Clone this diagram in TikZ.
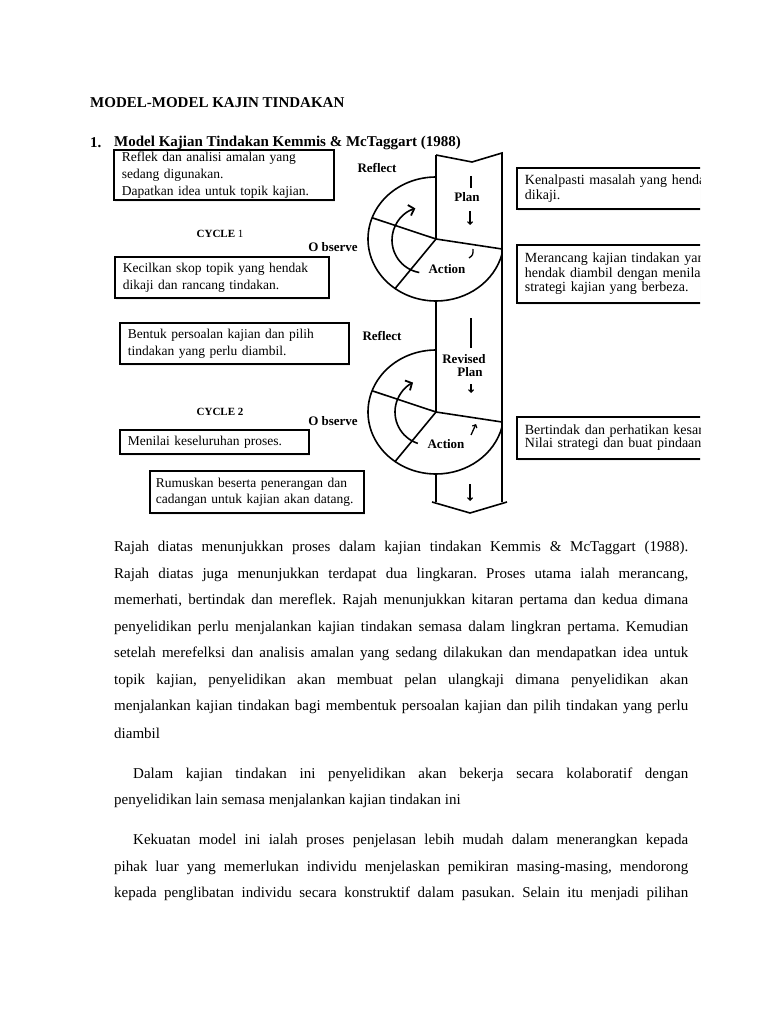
\documentclass[tikz,border=0pt]{standalone}
\usepackage{fontspec}
\setmainfont{Liberation Serif}
\usetikzlibrary{arrows.meta, shadows}

% one justified line of body text
\newcommand{\jline}[2]{\parbox{#1}{\parfillskip=0pt #2}}

\begin{document}
\frenchspacing
\begin{tikzpicture}[x=1pt, y=-1pt]
	\tikzset{
		txtbox/.style={draw, line width=1.8pt, fill=white, inner xsep=8pt, inner ysep=0pt, align=left,
			anchor=north west, font=\fontsize{13.5}{17}\selectfont,
			drop shadow={shadow xshift=1.5pt, shadow yshift=-2.5pt, fill=black!12}},
		lbl/.style={font=\fontsize{13}{15}\selectfont\bfseries, inner sep=0pt},
		body/.style={anchor=west, inner sep=0pt, font=\fontsize{15}{18}\selectfont},
		band/.style={line width=1.6pt, line join=miter},
		curl/.style={line width=1.6pt, -{Straight Barb[length=5pt, width=11pt, line width=1.8pt]}},
		tick/.style={line width=1.3pt, -{Straight Barb[length=2.5pt, width=5pt, line width=1.2pt]}}
	}
	\useasboundingbox (0,0) rectangle (768,1024);
	\fill[white] (0,0) rectangle (768,1024);

	% headings
	\node[anchor=west, inner sep=0pt, font=\fontsize{15}{18}\selectfont\bfseries] (title) at (90,103) {MODEL-MODEL KAJIN TINDAKAN};

	% the plan column and the two cycles
	\coordinate (c1) at (436,239);
	\coordinate (c2) at (436,412);
	\draw[band] (436,155) -- (472,162) -- (502,153) -- (502,502);
	\draw[band] (436,155) -- (c1);
	\draw[band] (c1) ++(90:68 and 62) -- (c2);
	\draw[band] (c2) ++(90:68 and 62) -- (436,502);
	\draw[band] (432,502) -- (470,513) -- (507,502);
	\foreach \c in {c1,c2} {
		\draw[band] (\c) ++(270:68 and 62) arc[start angle=270, end angle=14, x radius=68, y radius=62];
		\draw[band] (\c) -- +(200:68 and 62);
		\draw[band] (\c) -- +(127:68 and 62);
		\draw[band] (\c) -- +(66,10);
	}
	\draw[curl] (425,240) ++(100:33) arc[start angle=100, end angle=253, radius=33];
	\draw[curl] (428,412) ++(108:33) arc[start angle=108, end angle=243, radius=33];
	\draw[line width=1.3pt] (469,258) .. controls (473,255) .. (473,249);
	\draw[tick] (471,435) -- (476,424);

	% marks inside the column
	\draw[line width=2.5pt] (471,176) -- (471,188);
	\node[lbl] (plan1) at (467,197) {Plan};
	\draw[tick] (470,211) -- (470,225);
	\draw[line width=2.5pt] (471,318) -- (471,348);
	\node[lbl] (revised) at (464,359) {Revised};
	\node[lbl] (plan2) at (470,372) {Plan};
	\draw[tick] (471,384) -- (471,393);
	\draw[tick] (470,484) -- (470,501);

	% stage labels
	\node[lbl] (reflect1) at (377,168) {Reflect};
	\node[lbl] (observe1) at (333,247) {O bserve};
	\node[lbl] (action1) at (447,269) {Action};
	\node[lbl, font=\fontsize{11}{13}\selectfont] (cycle1) at (220,234) {\textbf{CYCLE} 1};
	\node[lbl] (reflect2) at (382,336) {Reflect};
	\node[lbl] (observe2) at (333,421) {O bserve};
	\node[lbl] (action2) at (446,444) {Action};
	\node[lbl, font=\fontsize{11}{13}\selectfont\bfseries] (cycle2) at (220,412) {CYCLE 2};

	% left boxes
	\node[txtbox, text width=204pt, minimum height=50pt] (reflek) at (113,149)
		{Reflek dan analisi amalan yang\\ sedang digunakan.\\ Dapatkan idea untuk topik kajian.};
	\node[txtbox, text width=198pt, minimum height=41pt] (kecil) at (114,256)
		{Kecilkan skop topik yang hendak\\ dikaji dan rancang tindakan.};
	\node[txtbox, text width=213pt, minimum height=41pt] (bentuk) at (119,322)
		{Bentuk persoalan kajian dan pilih\\ tindakan yang perlu diambil.};
	\node[txtbox, text width=173pt, minimum height=24pt] (menilai) at (119,429)
		{Menilai keseluruhan proses.};
	\node[txtbox, text width=202pt, inner xsep=6pt, minimum height=42pt, font=\fontsize{13.5}{16}\selectfont] (rumus) at (149,470)
		{Rumuskan beserta penerangan dan\\ cadangan untuk kajian akan datang.};

	% right boxes, cut at the page edge
	\begin{scope}
		\clip (0,0) rectangle (700,1024);
		\node[txtbox, text width=220pt, minimum height=41pt, font=\fontsize{14}{15}\selectfont] (kenal) at (516,167)
			{Kenalpasti masalah yang hendak\\ dikaji.};
		\node[txtbox, text width=220pt, minimum height=58pt, font=\fontsize{14}{14.5}\selectfont] (rancang) at (516,244)
			{Merancang kajian tindakan yang\\ hendak diambil dengan menilai\\ strategi kajian yang berbeza.};
		\node[txtbox, text width=220pt, minimum height=42pt, font=\fontsize{14}{13}\selectfont] (tindak) at (516,416)
			{Bertindak dan perhatikan kesan.\\ Nilai strategi dan buat pindaan a};
	\end{scope}

	\node[anchor=west, inner sep=0pt, font=\fontsize{15}{18}\selectfont\bfseries] (num) at (90,143) {1.};
	\node[anchor=west, inner sep=0pt, font=\fontsize{15}{18}\selectfont\bfseries] (head) at (114,143) {Model Kajian Tindakan Kemmis \& McTaggart (1988)};

	% body text
	\foreach \ln [count=\i from 0] in {
		{Rajah diatas menunjukkan proses dalam kajian tindakan Kemmis \& McTaggart (1988).},
		{Rajah diatas juga menunjukkan terdapat dua lingkaran. Proses utama ialah merancang,},
		{memerhati, bertindak dan mereflek. Rajah menunjukkan kitaran pertama dan kedua dimana},
		{penyelidikan perlu menjalankan kajian tindakan semasa dalam lingkran pertama. Kemudian},
		{setelah merefelksi dan analisis amalan yang sedang dilakukan dan mendapatkan idea untuk},
		{topik kajian, penyelidikan akan membuat pelan ulangkaji dimana penyelidikan akan},
		{menjalankan kajian tindakan bagi membentuk persoalan kajian dan pilih tindakan yang perlu}} {
		\node[body] (para\i) at (114,{548+26.5*\i}) {\jline{574pt}{\ln}};
	}
	\node[body] (para7) at (114,733.5) {diambil};
	\node[body] (dalam) at (133,775) {\jline{555pt}{Dalam kajian tindakan ini penyelidikan akan bekerja secara kolaboratif dengan}};
	\node[body] (dalamb) at (114,801) {penyelidikan lain semasa menjalankan kajian tindakan ini};
	\node[body] (kuat) at (133,841) {\jline{555pt}{Kekuatan model ini ialah proses penjelasan lebih mudah dalam menerangkan kepada}};
	\node[body] (kuatb) at (114,867.5) {\jline{574pt}{pihak luar yang memerlukan individu menjelaskan pemikiran masing-masing, mendorong}};
	\node[body] (kuatc) at (114,894) {\jline{574pt}{kepada penglibatan individu secara konstruktif dalam pasukan. Selain itu menjadi pilihan}};
\end{tikzpicture}
\end{document}
